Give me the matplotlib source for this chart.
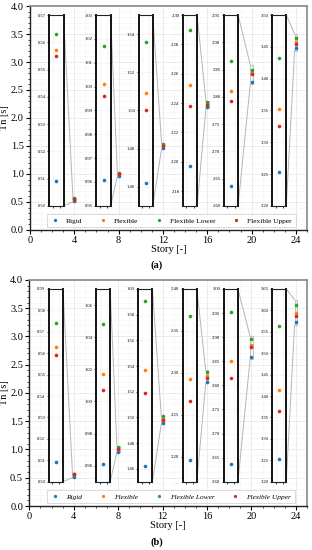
import numpy as np
import matplotlib
matplotlib.use('Agg')
import matplotlib.pyplot as plt
from matplotlib.patches import ConnectionPatch, Rectangle
from matplotlib.ticker import AutoMinorLocator, FormatStrFormatter

plt.rcParams['font.family'] = ['Liberation Serif', 'DejaVu Serif']

stories = [4, 8, 12, 16, 20, 24]
series = ['Rigid', 'Flexible', 'Flexible Lower', 'Flexible Upper']
colors = ['#1f77b4', '#ff7f0e', '#2ca02c', '#d62728']

# panel (a)
a_rigid = [0.509, 0.961, 1.462, 2.197, 2.637, 3.253]
a_flex = [0.557, 1.001, 1.509, 2.252, 2.810, 3.352]
a_lower = [0.563, 1.017, 1.536, 2.290, 2.865, 3.432]
a_upper = [0.555, 0.996, 1.500, 2.238, 2.793, 3.326]
a_ylims = [(0.50, 0.57), (0.95, 1.03), (1.45, 1.55), (2.17, 2.30), (2.60, 2.95), (3.20, 3.50)]
a_tick0 = [0.50, 0.95, 1.46, 2.18, 2.60, 3.20]
a_step = [0.01, 0.01, 0.02, 0.02, 0.05, 0.05]

# panel (b)
b_rigid = [0.509, 0.961, 1.462, 2.196, 2.637, 3.252]
b_flex = [0.563, 1.017, 1.537, 2.292, 2.850, 3.414]
b_lower = [0.574, 1.048, 1.591, 2.368, 2.952, 3.563]
b_upper = [0.559, 1.007, 1.519, 2.266, 2.815, 3.364]
b_ylims = [(0.50, 0.59), (0.95, 1.07), (1.45, 1.60), (2.17, 2.40), (2.60, 3.00), (3.20, 3.65)]
b_tick0 = [0.50, 0.96, 1.46, 2.20, 2.60, 3.20]
b_step = [0.01, 0.02, 0.02, 0.05, 0.05, 0.05]

inset_x0 = [1.75, 6.0, 9.8, 13.8, 17.5, 21.85]


def draw_panel(ax, data, ylims, tick0, step, italic, ylab_x):
    for vals, name, c in zip(data, series, colors):
        ax.plot(stories, vals, 'o', ms=2.6, color=c, mec='none', label=name, zorder=3)
    ax.set_xlim(0, 25)
    ax.set_ylim(0, 4)
    ax.set_xticks(range(0, 25, 4))
    ax.set_yticks(np.arange(0, 4.01, 0.5))
    ax.yaxis.set_major_formatter(FormatStrFormatter('%.1f'))
    ax.xaxis.set_minor_locator(AutoMinorLocator(4))
    ax.yaxis.set_minor_locator(AutoMinorLocator(5))
    ax.tick_params(labelsize=7.5, length=3, width=0.8, pad=1.5)
    ax.tick_params(which='minor', length=1.5, width=0.5)
    ax.grid(True, which='major', color='#e3e3e3', lw=0.5)
    ax.grid(True, which='minor', color='#f3f3f3', lw=0.4)
    ax.set_axisbelow(True)
    for s in ['top', 'right']:
        ax.spines[s].set_color('#888888')
        ax.spines[s].set_linewidth(1.2)
    for s in ['left', 'bottom']:
        ax.spines[s].set_color('#222222')
        ax.spines[s].set_linewidth(1.0)
    ax.set_ylabel('Tn [s]', fontsize=7.5)
    ax.yaxis.set_label_coords(ylab_x, 0.5)
    ax.set_xlabel('Story [-]', fontsize=7.5, labelpad=0)
    leg = ax.legend(loc='lower center', bbox_to_anchor=(0.51, -0.005), ncol=4,
                    markerscale=0.9, columnspacing=2.2, handletextpad=0.9, borderpad=0.5,
                    handlelength=1.2, frameon=True, fancybox=False, edgecolor='#cccccc',
                    prop={'style': 'italic' if italic else 'normal', 'size': 5.3})
    leg.get_frame().set_linewidth(0.6)

    d = 0.12
    for i, st in enumerate(stories):
        lo, hi = ylims[i]
        axins = ax.inset_axes([inset_x0[i], 0.43, 1.28, 3.41], transform=ax.transData)
        for vals, c in zip(data, colors):
            axins.plot([st], [vals[i]], 'o', ms=2.6, color=c, mec='none')
        axins.set_xlim(st - 0.5, st + 0.5)
        axins.set_ylim(lo, hi)
        axins.set_xticks([st - 0.25, st + 0.25])
        axins.set_xticklabels([])
        axins.set_yticks(np.arange(tick0[i], hi + 1e-6, step[i]))
        axins.yaxis.set_major_formatter(FormatStrFormatter('%.2f'))
        axins.tick_params(labelsize=3.3, length=1.5, width=0.5, pad=1)
        axins.grid(True, color='#f0f0f0', lw=0.4)
        for s in ['left', 'right']:
            axins.spines[s].set_linewidth(1.4)
            axins.spines[s].set_color('#111111')
        for s in ['top', 'bottom']:
            axins.spines[s].set_linewidth(0.8)
            axins.spines[s].set_color('#222222')
        ax.add_patch(Rectangle((st - d, lo), 2 * d, hi - lo, fill=False, ec='#b5b5b5', lw=0.6, zorder=2))
        for ya, yb in [(1, hi), (0, lo)]:
            con = ConnectionPatch(xyA=(1, ya), coordsA=axins.transAxes, xyB=(st - d, yb),
                                  coordsB=ax.transData, color='#b5b5b5', lw=0.7)
            ax.add_artist(con)


fig = plt.figure(figsize=(3.12, 5.5), dpi=100)
ax_a = fig.add_axes([0.096, 0.582, 0.888, 0.407])
ax_b = fig.add_axes([0.094, 0.080, 0.890, 0.411])

draw_panel(ax_a, [a_rigid, a_flex, a_lower, a_upper], a_ylims, a_tick0, a_step, False, -0.075)
draw_panel(ax_b, [b_rigid, b_flex, b_lower, b_upper], b_ylims, b_tick0, b_step, True, -0.072)

fig.text(0.503, 0.518, '(a)', ha='center', va='center', fontsize=7.5, fontweight='bold')
fig.text(0.503, 0.015, '(b)', ha='center', va='center', fontsize=7.5, fontweight='bold')

fig.savefig('out.png', dpi=100)
